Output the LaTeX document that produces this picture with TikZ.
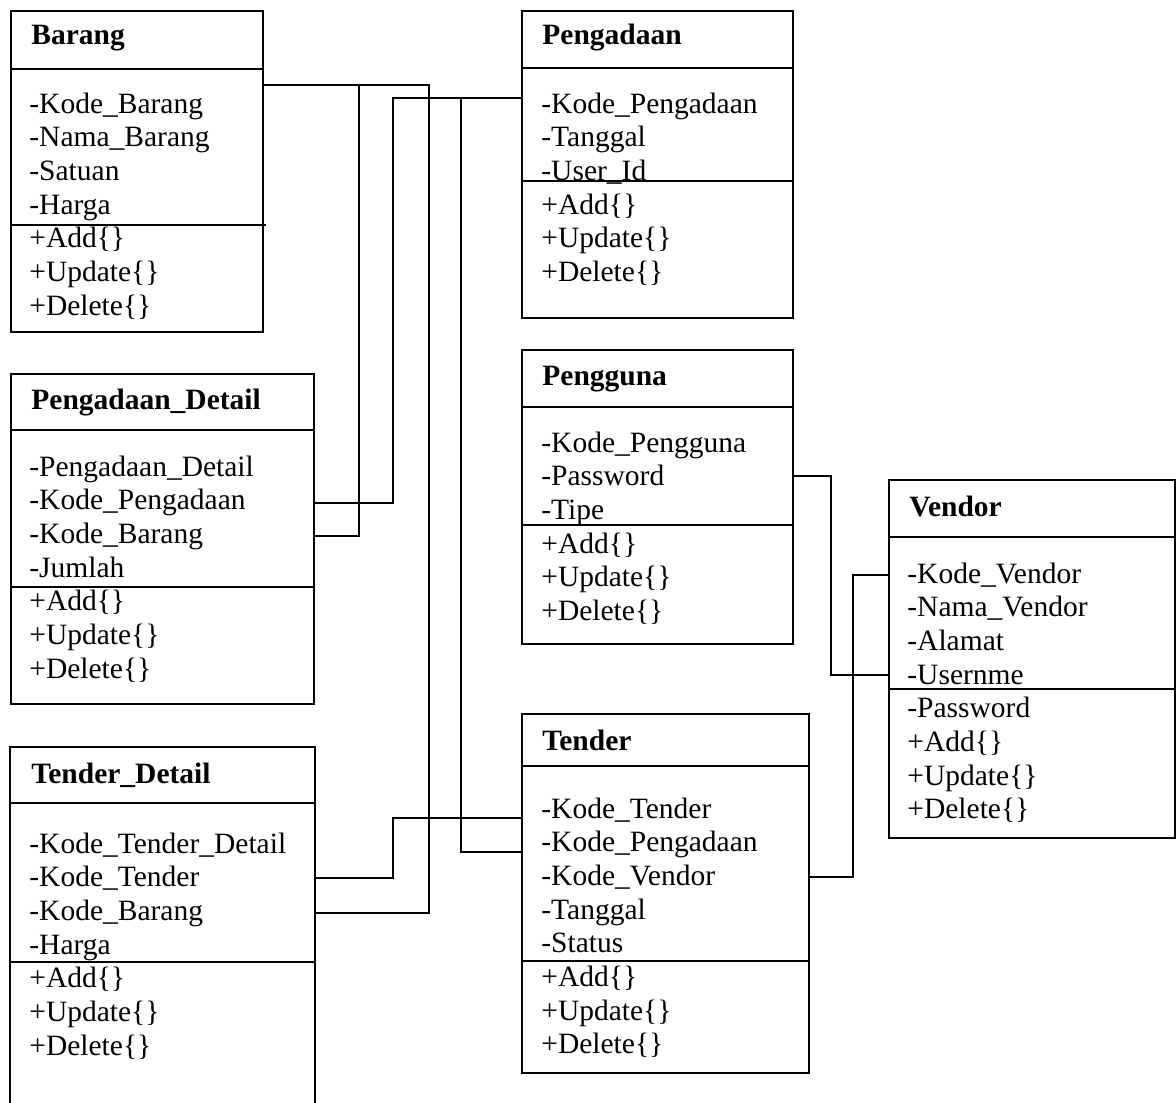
\documentclass[tikz,border=0pt]{standalone}
\usepackage{fontspec}
\setmainfont{Liberation Serif}
\newcommand{\umlfont}{\fontsize{14.75pt}{17pt}\selectfont}
\tikzset{
  box/.style={draw, line width=1pt, inner sep=0pt, anchor=north west},
  title/.style={font=\umlfont\bfseries, anchor=base west, inner sep=0pt},
  row/.style={font=\umlfont, anchor=base west, inner sep=0pt},
  link/.style={line width=1pt},
}
\begin{document}
\begin{tikzpicture}[x=0.5pt, y=-0.5pt]
    \useasboundingbox (0,0) rectangle (1176,1102);

    \node[box, minimum width=126pt, minimum height=160.5pt] (brg) at (10,10) {};
    \node[title] (brgT) at (31,45) {Barang};
    \draw[link] (brg.west |- 0,69) -- (brg.east |- 0,69);
    \foreach \txt [count=\i from 0] in {-Kode\_Barang,-Nama\_Barang,-Satuan,-Harga,+Add\{\},+Update\{\},+Delete\{\}}
        \node[row] (brg\i) at (29,113+33.7*\i) {\txt};
    \draw[link] (brg.west |- 0,225) -- (266,225);

    \node[box, minimum width=135.5pt, minimum height=153.5pt] (pgd) at (521,10) {};
    \node[title] (pgdT) at (542,45) {Pengadaan};
    \draw[link] (pgd.west |- 0,68) -- (pgd.east |- 0,68);
    \foreach \txt [count=\i from 0] in {-Kode\_Pengadaan,-Tanggal,-User\_Id,+Add\{\},+Update\{\},+Delete\{\}}
        \node[row] (pgd\i) at (541,113+33.7*\i) {\txt};
    \draw[link] (pgd.west |- 0,181) -- (pgd.east |- 0,181);

    \node[box, minimum width=135.5pt, minimum height=147pt] (pgn) at (521,349) {};
    \node[title] (pgnT) at (542,385) {Pengguna};
    \draw[link] (pgn.west |- 0,407) -- (pgn.east |- 0,407);
    \foreach \txt [count=\i from 0] in {-Kode\_Pengguna,-Password,-Tipe,+Add\{\},+Update\{\},+Delete\{\}}
        \node[row] (pgn\i) at (541,452+33.7*\i) {\txt};
    \draw[link] (pgn.west |- 0,525) -- (pgn.east |- 0,525);

    \node[box, minimum width=151.5pt, minimum height=165pt] (pd) at (10,373) {};
    \node[title] (pdT) at (31,409) {Pengadaan\_Detail};
    \draw[link] (pd.west |- 0,430) -- (pd.east |- 0,430);
    \foreach \txt [count=\i from 0] in {-Pengadaan\_Detail,-Kode\_Pengadaan,-Kode\_Barang,-Jumlah,+Add\{\},+Update\{\},+Delete\{\}}
        \node[row] (pd\i) at (29,476+33.7*\i) {\txt};
    \draw[link] (pd.west |- 0,587) -- (pd.east |- 0,587);

    \node[box, draw=none, minimum width=151.5pt, minimum height=177.5pt] (td) at (10,747) {};
    \draw[link] (td.south west) |- (td.north east) -- (td.south east);
    \node[title] (tdT) at (31,783) {Tender\_Detail};
    \draw[link] (td.west |- 0,803) -- (td.east |- 0,803);
    \foreach \txt [count=\i from 0] in {-Kode\_Tender\_Detail,-Kode\_Tender,-Kode\_Barang,-Harga,+Add\{\},+Update\{\},+Delete\{\}}
        \node[row] (td\i) at (29,853+33.7*\i) {\txt};
    \draw[link] (td.west |- 0,962) -- (td.east |- 0,962);

    \node[box, minimum width=143.5pt, minimum height=179.5pt] (tnd) at (521,713) {};
    \node[title] (tndT) at (542,750) {Tender};
    \draw[link] (tnd.west |- 0,766) -- (tnd.east |- 0,766);
    \foreach \txt [count=\i from 0] in {-Kode\_Tender,-Kode\_Pengadaan,-Kode\_Vendor,-Tanggal,-Status,+Add\{\},+Update\{\},+Delete\{\}}
        \node[row] (tnd\i) at (541,818+33.7*\i) {\txt};
    \draw[link] (tnd.west |- 0,961) -- (tnd.east |- 0,961);

    \node[box, minimum width=143pt, minimum height=179pt] (vnd) at (888,479) {};
    \node[title] (vndT) at (909,516) {Vendor};
    \draw[link] (vnd.west |- 0,537) -- (vnd.east |- 0,537);
    \foreach \txt [count=\i from 0] in {-Kode\_Vendor,-Nama\_Vendor,-Alamat,-Usernme,-Password,+Add\{\},+Update\{\},+Delete\{\}}
        \node[row] (vnd\i) at (907,583+33.7*\i) {\txt};
    \draw[link] (vnd.west |- 0,689) -- (vnd.east |- 0,689);

    \draw[link] ([yshift=-37.5pt]brg.north east) -| (pd2 -| 359,0) -- (pd2 -| pd.east);
    \draw[link] ([yshift=-37.5pt]brg.north east) -| (td2 -| 429,0) -- (td2 -| td.east);
    \draw[link] ([yshift=-44pt]pgd.north west) -| (pd1 -| 393,0) -- (pd1 -| pd.east);
    \draw[link] ([yshift=-44pt]pgd.north west) -| (tnd1.base -| 461,0) -- (tnd1.base -| tnd.west);
    \draw[link] (td1 -| td.east) -| (tnd0.base -| 393,0) -- (tnd0.base -| tnd.west);
    \draw[link] (pgn1 -| pgn.east) -| (vnd3 -| 831,0) -- (vnd3 -| vnd.west);
    \draw[link] (tnd2 -| tnd.east) -| (vnd0 -| 853,0) -- (vnd0 -| vnd.west);
\end{tikzpicture}
\end{document}
